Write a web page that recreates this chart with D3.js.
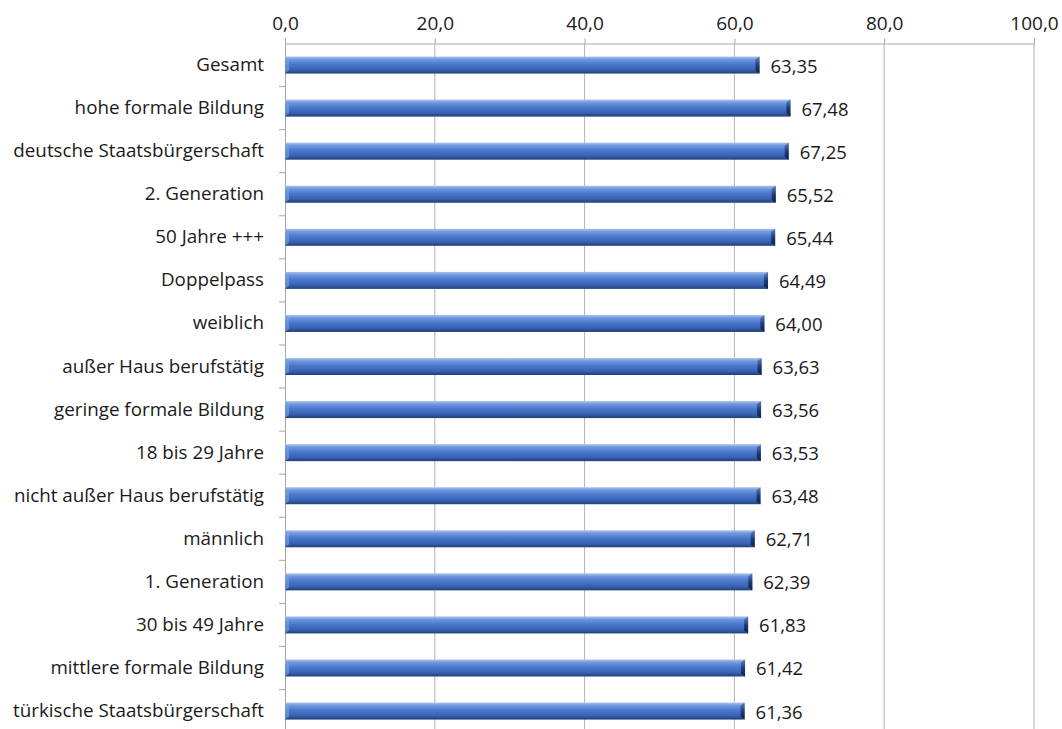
<!DOCTYPE html>
<html><head><meta charset="utf-8">
<script src="https://cdn.jsdelivr.net/npm/d3@7"></script>
<style>body{margin:0;background:#fff}</style>
</head><body>
<svg id="c" width="1062" height="729"></svg>
<script>
const categories = ["Gesamt","hohe formale Bildung","deutsche Staatsbürgerschaft","2. Generation","50 Jahre +++","Doppelpass","weiblich","außer Haus berufstätig","geringe formale Bildung","18 bis 29 Jahre","nicht außer Haus berufstätig","männlich","1. Generation","30 bis 49 Jahre","mittlere formale Bildung","türkische Staatsbürgerschaft"];
const values = [63.35,67.48,67.25,65.52,65.44,64.49,64.00,63.63,63.56,63.53,63.48,62.71,62.39,61.83,61.42,61.36];
const ticks = [0,20,40,60,80,100];

const svg = d3.select("#c");
const font = "'Open Sans', sans-serif";
const x = d3.scaleLinear().domain([0,100]).range([285,1034]);
const y = d3.scaleBand().domain(categories).range([43.5,732.6]).paddingInner(0).paddingOuter(0);
const fmt = v => d3.format(".1f")(v).replace(".", ",");
const fmt2 = v => d3.format(".2f")(v).replace(".", ",");

const defs = svg.append("defs");
const g = defs.append("linearGradient").attr("id","bar").attr("x1",0).attr("y1",0).attr("x2",0).attr("y2",1);
[[0,"#a9c3ee"],[0.18,"#6f97dd"],[0.45,"#4a78cc"],[0.75,"#3a64b5"],[1,"#213f7a"]].forEach(s=>g.append("stop").attr("offset",s[0]).attr("stop-color",s[1]));
const ge = defs.append("linearGradient").attr("id","end").attr("x1",0).attr("y1",0).attr("x2",0).attr("y2",1);
[[0,"#5d7fbf"],[0.5,"#1f3c78"],[1,"#101f40"]].forEach(s=>ge.append("stop").attr("offset",s[0]).attr("stop-color",s[1]));

// gridlines
svg.append("g").selectAll("line").data(ticks.filter(t=>t>0)).join("line")
  .attr("x1",d=>x(d)).attr("x2",d=>x(d)).attr("y1",y.range()[0]).attr("y2",y.range()[1])
  .attr("stroke","#b3b3b3").attr("stroke-width",1);

// top axis
const ax = svg.append("g").attr("transform",`translate(0,${y.range()[0]})`)
  .call(d3.axisTop(x).tickValues(ticks).tickFormat(fmt).tickSize(5).tickPadding(9));
ax.select(".domain").attr("stroke","#a6a6a6");
ax.selectAll(".tick line").attr("stroke","#a6a6a6");
ax.selectAll("text").attr("font-family",font).attr("font-size",19).attr("fill","#1a1a1a");

// left axis
const ay = svg.append("g").attr("transform",`translate(${x(0)},0)`)
  .call(d3.axisLeft(y).tickSize(0).tickPadding(21));
ay.select(".domain").attr("stroke","#a6a6a6");
ay.selectAll("text").attr("font-family",font).attr("font-size",18.8).attr("fill","#1a1a1a");
svg.append("g").selectAll("line").data(categories.slice(1)).join("line")
  .attr("x1",x(0)-6).attr("x2",x(0)).attr("y1",d=>y(d)).attr("y2",d=>y(d))
  .attr("stroke","#a6a6a6");

// bars
const bh = 17;
const bars = svg.append("g").selectAll("g").data(categories).join("g");
bars.append("rect")
  .attr("x",x(0)).attr("y",d=>y(d)+y.bandwidth()/2-bh/2)
  .attr("width",(d,i)=>x(values[i])-x(0)).attr("height",bh)
  .attr("fill","url(#bar)");
bars.append("path")
  .attr("d",(d,i)=>{const x1=x(values[i]),y0=y(d)+y.bandwidth()/2-bh/2;
    return `M${x1-4},${y0+3}L${x1},${y0}L${x1},${y0+bh}L${x1-4},${y0+bh-3}Z`;})
  .attr("fill","url(#end)");
bars.append("path")
  .attr("d",(d,i)=>{const x0=x(0),y0=y(d)+y.bandwidth()/2-bh/2;
    return `M${x0},${y0}L${x0+4},${y0+3}L${x0+4},${y0+bh-3}L${x0},${y0+bh}Z`;})
  .attr("fill","#7ea3e3").attr("opacity",0.6);
bars.append("text")
  .attr("x",(d,i)=>x(values[i])+11).attr("y",d=>y(d)+y.bandwidth()/2+1)
  .attr("dy","0.35em").attr("font-family",font).attr("font-size",18.5).attr("fill","#1a1a1a")
  .text((d,i)=>fmt2(values[i]));
</script>
</body></html>
